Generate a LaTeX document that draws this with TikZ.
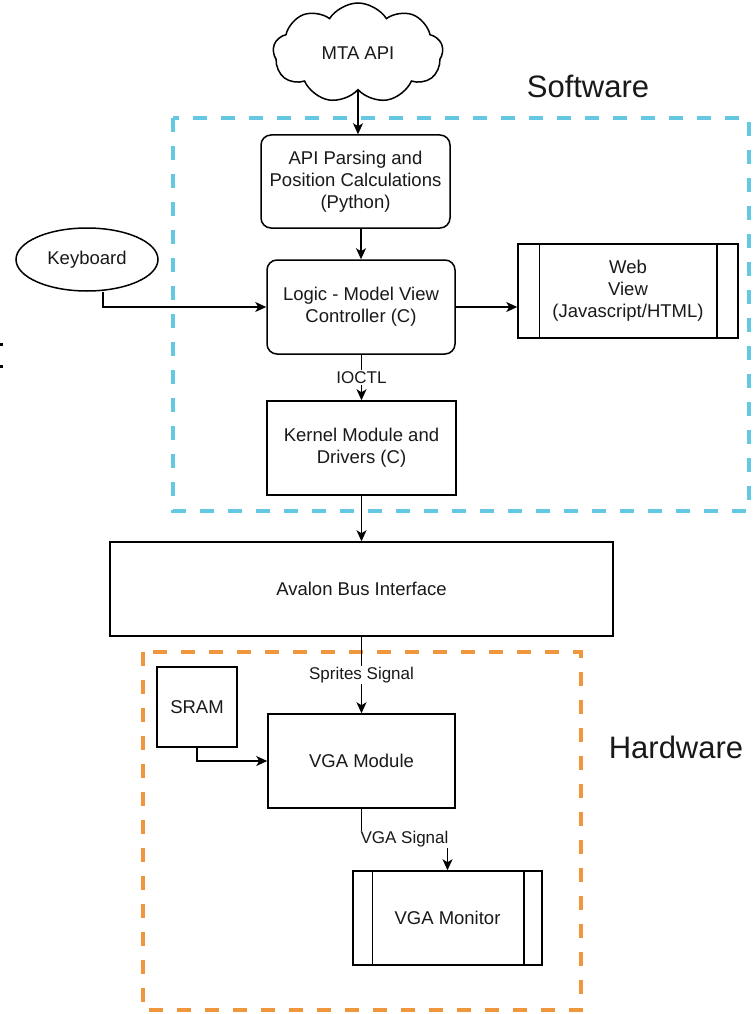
\documentclass[tikz,border=0pt]{standalone}
\usepackage{fontspec}
\setmainfont{Liberation Sans}
\usetikzlibrary{shapes.geometric,shapes.symbols,arrows.meta,calc}
\definecolor{swcyan}{RGB}{100,200,226}
\definecolor{hworange}{RGB}{240,150,60}
\begin{document}
\begin{tikzpicture}[x=1pt,y=-1pt,
  every node/.style={font=\fontsize{18.5}{22}\selectfont, text=black!90},
  box/.style={draw, line width=1.5pt, align=center, inner sep=2pt, fill=white},
  rbox/.style={box, rounded corners=10pt},
  arr/.style={line width=1.4pt, -{Stealth[length=11pt,width=10pt,inset=3pt]}},
  elabel/.style={fill=white, inner sep=1pt, font=\fontsize{17}{20}\selectfont},
  group/.style={line width=4pt, dash pattern=on 14pt off 14pt},
  title/.style={font=\fontsize{31}{36}\selectfont, text=black!90}
]
\useasboundingbox (0,0) rectangle (752,1014);

% group frames
\draw[group, swcyan] (173,118) rectangle (749,511);
\draw[group, hworange] (143,652) rectangle (581,1010);
\node[title] (sw) at (588,86) {Software};
\node[title] (hw) at (676,747) {Hardware};

% nodes
\node[cloud, cloud puffs=9, cloud puff arc=115, aspect=1.7, draw, line width=1.5pt, fill=white,
      minimum width=170pt, minimum height=100pt] (mta) at (358,53) {MTA API};
\node[rbox, minimum width=189pt, minimum height=93pt] (api) at (355.5,181.5)
  {API Parsing and\\Position Calculations\\(Python)};
\node[rbox, minimum width=188pt, minimum height=94pt] (logic) at (361,307)
  {Logic - Model View\\Controller (C)};
\node[box, minimum width=189pt, minimum height=94pt] (kernel) at (361.5,448)
  {Kernel Module and\\Drivers (C)};
\node[box, minimum width=503pt, minimum height=94pt] (avalon) at (361.5,589)
  {Avalon Bus Interface};
\node[box, minimum width=80pt, minimum height=80pt] (sram) at (197,707) {SRAM};
\node[box, minimum width=187pt, minimum height=94pt] (vga) at (361.5,761) {VGA Module};
\node[box, minimum width=189pt, minimum height=94pt] (monitor) at (447.5,918) {VGA Monitor};
\node[box, minimum width=220pt, minimum height=94pt] (web) at (628,291)
  {Web\\View\\(Javascript/HTML)};
\node[ellipse, draw, line width=1.5pt, fill=white, minimum width=142pt, minimum height=63pt, inner sep=0pt]
  (kb) at (87,259.5) {Keyboard};

% process-style side bars
\draw[line width=1.5pt] ([xshift=22pt]web.north west) -- ([xshift=22pt]web.south west);
\draw[line width=1.5pt] ([xshift=-22pt]web.north east) -- ([xshift=-22pt]web.south east);
\draw[line width=1.5pt] ([xshift=20pt]monitor.north west) -- ([xshift=20pt]monitor.south west);
\draw[line width=1.5pt] ([xshift=-19pt]monitor.north east) -- ([xshift=-19pt]monitor.south east);

% connectors
\draw[arr] (mta.south) -- (mta.south |- api.north);
\draw[arr] (api.south -| logic.north) -- (logic.north);
\draw[arr] ([xshift=16pt]kb.south) |- (logic.west);
\draw[arr] (logic.east) -- (logic.east -| web.west);
\draw[arr] (logic.south -| kernel.north) -- (kernel.north) node[elabel, pos=0.5] {IOCTL};
\draw[arr] (kernel.south) -- (kernel.south |- avalon.north);
\draw[arr] (avalon.south -| vga.north) -- (vga.north) node[elabel, pos=0.5] {Sprites Signal};
\draw[arr] (sram.south) |- (vga.west);
\coordinate (vm) at ($(vga.south)!0.5!(monitor.north)$);
\draw[arr] (vga.south) |- (vm) -| (monitor.north);
\node[elabel] (vgalbl) at (vm) {VGA Signal};

% cropped marks at the left edge
\fill (0,343) rectangle (3,346);
\fill (0,365) rectangle (3,368);
\end{tikzpicture}
\end{document}
